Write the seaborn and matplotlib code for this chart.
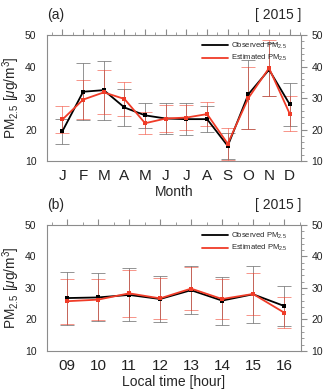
import matplotlib
matplotlib.use("Agg")
import matplotlib.pyplot as plt
from matplotlib.lines import Line2D
import seaborn as sns
import pandas as pd
import numpy as np

# monthly means and standard deviations
months = ["J", "F", "M", "A", "M", "J", "J", "A", "S", "O", "N", "D"]
obs_month = [19.5, 32.0, 32.5, 27.0, 24.5, 23.5, 23.3, 23.3, 14.8, 31.2, 39.0, 28.0]
obs_month_sd = [4.0, 9.0, 9.4, 5.8, 4.0, 4.9, 5.0, 4.1, 4.0, 11.0, 8.5, 6.9]
est_month = [23.2, 29.5, 31.8, 29.7, 22.0, 23.5, 23.8, 24.9, 15.5, 30.0, 39.5, 25.0]
est_month_sd = [4.3, 6.1, 7.0, 5.4, 3.5, 4.3, 4.0, 3.8, 5.1, 9.7, 9.0, 5.5]

# hourly means and standard deviations
hours = ["09", "10", "11", "12", "13", "14", "15", "16"]
obs_hour = [26.8, 27.0, 27.8, 26.5, 29.3, 26.0, 28.0, 24.3]
obs_hour_sd = [8.4, 7.6, 8.4, 7.2, 7.7, 7.6, 9.1, 6.3]
est_hour = [25.8, 26.3, 28.3, 26.7, 29.8, 26.5, 28.1, 22.2]
est_hour_sd = [7.2, 6.4, 7.5, 6.6, 6.8, 6.5, 6.8, 4.8]

sns.set_style("white")
plt.rcParams["font.family"] = ["Liberation Sans", "DejaVu Sans"]
plt.rcParams["mathtext.fontset"] = "custom"
plt.rcParams["mathtext.rm"] = "Liberation Sans"
plt.rcParams["mathtext.it"] = "Liberation Sans:italic"

RED = "#f03c28"
GRID = "#8c8c8c"
OBS_LABEL = "Observed PM$_{2.5}$"
EST_LABEL = "Estimated PM$_{2.5}$"


def panel(ax, labels, obs, obs_sd, est, est_sd, xlabel, tag, xlim):
    x = np.arange(len(labels))
    df = pd.DataFrame({
        "x": np.concatenate([x, x]),
        "val": obs + est,
        "kind": [OBS_LABEL] * len(x) + [EST_LABEL] * len(x),
    })
    ax.errorbar(x, obs, yerr=obs_sd, fmt="none", ecolor="#707070",
                elinewidth=0.7, capsize=5, capthick=0.7, alpha=0.75, zorder=2)
    ax.errorbar(x, est, yerr=est_sd, fmt="none", ecolor=RED,
                elinewidth=0.7, capsize=5, capthick=0.7, alpha=0.55, zorder=2)
    sns.lineplot(data=df, x="x", y="val", hue="kind",
                 palette=["black", RED], marker="s", markersize=2.8,
                 markeredgewidth=0, linewidth=1.3, ax=ax, zorder=3, legend=False)
    ax.set_xlim(*xlim)
    ax.set_ylim(10, 50)
    ax.set_xticks(x)
    ax.set_xticklabels(labels, fontsize=11)
    ax.set_xticks(np.arange(-0.5, len(x), 0.5), minor=True)
    ax.set_yticks([10, 20, 30, 40, 50])
    ax.set_yticks(np.arange(10, 51, 2), minor=True)
    ax.tick_params(which="both", direction="out", top=True, right=True,
                   labelright=True, color=GRID, labelcolor="#222222")
    ax.tick_params(axis="y", labelsize=7.5, pad=3)
    ax.tick_params(axis="x", pad=1.5)
    ax.tick_params(which="major", length=4.5, width=0.8)
    ax.tick_params(which="minor", length=2.2, width=0.6)
    for s in ax.spines.values():
        s.set_color(GRID)
        s.set_linewidth(0.8)
    ax.set_xlabel(xlabel, fontsize=10, labelpad=1.5)
    ax.set_ylabel("PM$_{2.5}$ [$\\mu$g/m$^3$]", fontsize=9.8, labelpad=2)
    ax.text(0.0, 1.155, tag, transform=ax.transAxes, fontsize=10, ha="left", va="center")
    ax.text(1.0, 1.155, "[ 2015 ]", transform=ax.transAxes, fontsize=10, ha="right", va="center")
    handles = [Line2D([], [], color="black", lw=1.3), Line2D([], [], color=RED, lw=1.3)]
    ax.legend(handles, [OBS_LABEL, EST_LABEL], loc="upper right", frameon=False,
              fontsize=5.5, handlelength=3.3, handletextpad=0.4, labelspacing=0.25,
              borderaxespad=0.4, bbox_to_anchor=(0.97, 1.0))


fig = plt.figure(figsize=(3.27, 3.89), dpi=100)
ax1 = fig.add_axes([0.1437, 0.586, 0.777, 0.324])
ax2 = fig.add_axes([0.1437, 0.0977, 0.777, 0.324])
panel(ax1, months, obs_month, obs_month_sd, est_month, est_month_sd,
      "Month", "(a)", (-0.75, 11.55))
panel(ax2, hours, obs_hour, obs_hour_sd, est_hour, est_hour_sd,
      "Local time [hour]", "(b)", (-0.65, 7.55))
fig.savefig("out.png", dpi=100)
